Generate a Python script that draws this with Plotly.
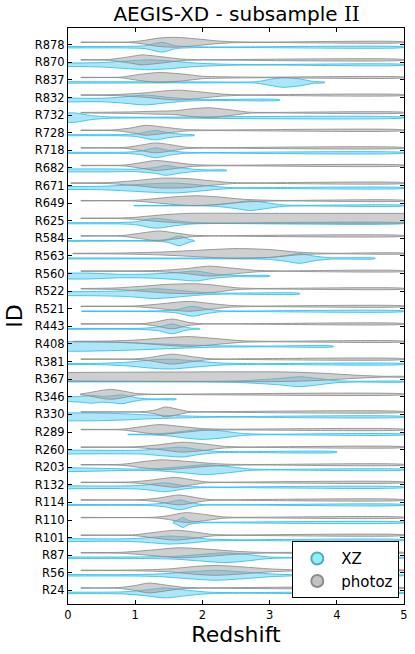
import plotly.graph_objects as go

# IDs, top to bottom
ids = ["R878", "R870", "R837", "R832", "R732", "R728", "R718", "R682", "R671",
       "R649", "R625", "R584", "R563", "R560", "R522", "R521", "R443", "R408",
       "R381", "R367", "R346", "R330", "R289", "R260", "R203", "R132", "R114",
       "R110", "R101", "R87", "R56", "R24"]

# density profiles: (redshift, relative density 0..1)
photoz_profiles = [
    [(0.19,.05),(0.9,.05),(1.1,.3),(1.35,.85),(1.6,1.0),(1.9,.7),(2.2,.3),(2.5,.08),(3.0,.05),(5,.05)],
    [(0.19,.05),(0.6,.08),(0.9,.6),(1.1,1.0),(1.35,.7),(1.7,.15),(2.0,.05),(5,.05)],
    [(0.19,.05),(0.8,.08),(1.0,.5),(1.35,1.0),(1.7,.7),(2.0,.25),(2.4,.12),(2.9,.06),(5,.05)],
    [(0.19,.05),(0.7,.1),(1.1,.4),(1.4,.8),(1.65,1.0),(2.0,.6),(2.3,.2),(2.6,.06),(5,.05)],
    [(0.19,.05),(0.9,.15),(1.3,.3),(1.6,.4),(1.85,.8),(2.1,1.0),(2.4,.6),(2.7,.1),(3.0,.05),(5,.05)],
    [(0.19,.05),(0.7,.1),(0.95,.5),(1.15,1.0),(1.45,.6),(1.75,.15),(2.1,.06),(5,.05)],
    [(0.19,.05),(0.85,.1),(1.1,.6),(1.3,1.0),(1.55,.6),(1.75,.15),(2.0,.05),(5,.05)],
    [(0.19,.05),(0.85,.1),(1.1,.6),(1.3,1.0),(1.55,.7),(1.85,.2),(2.2,.06),(5,.05)],
    [(0.04,.05),(0.6,.1),(1.0,.5),(1.4,1.0),(1.8,.9),(2.1,.5),(2.45,.1),(2.8,.05),(5,.05)],
    [(0.19,.05),(1.0,.08),(1.2,.3),(1.6,.8),(1.9,1.0),(2.2,.8),(2.6,.3),(3.0,.08),(3.3,.05),(5,.05)],
    [(0.19,.05),(0.8,.08),(1.0,.2),(1.4,.7),(1.8,1.0),(3.0,1.0),(4.5,1.0),(5.0,1.0),(5.2,1.0)],
    [(0.19,.05),(0.8,.08),(1.05,.5),(1.35,1.0),(1.6,.6),(1.85,.15),(2.1,.05),(5,.05)],
    [(0.07,.05),(0.8,.1),(1.4,.3),(2.0,.7),(2.5,1.0),(3.0,.8),(3.4,.3),(3.7,.1),(4.0,.05),(5,.05)],
    [(0.19,.05),(1.0,.06),(1.4,.15),(1.75,.5),(2.1,1.0),(2.45,.6),(2.8,.15),(3.1,.05),(5,.05)],
    [(0.19,.05),(0.7,.15),(1.1,.5),(1.5,.9),(1.9,1.0),(2.2,.7),(2.5,.2),(2.8,.06),(5,.05)],
    [(0.19,.05),(1.0,.08),(1.3,.4),(1.8,1.0),(2.1,.6),(2.4,.2),(2.7,.06),(5,.05)],
    [(0.19,.05),(1.1,.06),(1.3,.4),(1.55,1.0),(1.8,.3),(2.0,.05),(5,.05)],
    [(0.07,.05),(0.6,.1),(1.0,.3),(1.5,.8),(1.8,1.0),(2.2,.6),(2.6,.15),(3.0,.05),(5,.05)],
    [(0.19,.05),(1.0,.06),(1.2,.3),(1.55,1.0),(1.85,.5),(2.1,.1),(2.3,.05),(5,.05)],
    [(-0.1,.85),(0.5,.9),(1.5,.95),(2.5,1.0),(3.3,.95),(3.8,.7),(4.3,.3),(4.7,.08),(5.0,.05)],
    [(0.18,.05),(0.3,.3),(0.5,.8),(0.65,1.0),(0.85,.6),(1.0,.2),(1.2,.05),(5,.05)],
    [(0.19,.05),(1.1,.06),(1.3,.4),(1.45,1.0),(1.65,.5),(1.8,.1),(2.0,.05),(5,.05)],
    [(0.19,.05),(0.8,.08),(1.0,.4),(1.35,1.0),(1.7,.6),(2.0,.2),(2.3,.08),(5,.05)],
    [(0.19,.05),(1.0,.08),(1.3,.4),(1.7,1.0),(2.0,.7),(2.3,.2),(2.6,.05),(5,.05)],
    [(0.19,.05),(0.8,.1),(1.1,.6),(1.4,1.0),(1.75,.7),(2.1,.3),(2.4,.1),(2.8,.05),(5,.05)],
    [(0.19,.05),(0.95,.1),(1.2,.4),(1.6,1.0),(1.85,.5),(2.05,.1),(2.3,.05),(5,.05)],
    [(0.19,.05),(1.1,.08),(1.35,.4),(1.65,1.0),(1.9,.5),(2.1,.1),(2.3,.05),(5,.05)],
    [(0.19,.05),(1.3,.08),(1.5,.4),(1.75,1.0),(2.05,.6),(2.3,.15),(2.5,.05),(5,.05)],
    [(0.19,.05),(1.0,.1),(1.25,.5),(1.6,1.0),(1.9,.6),(2.15,.15),(2.5,.05),(5,.05)],
    [(0.19,.05),(0.8,.1),(1.2,.5),(1.65,1.0),(2.1,.7),(2.5,.3),(2.9,.08),(5,.05)],
    [(0.19,.05),(1.0,.08),(1.5,.3),(1.9,.8),(2.2,1.0),(2.6,.7),(3.0,.3),(3.4,.1),(3.8,.05),(5,.05)],
    [(0.19,.05),(0.75,.08),(1.0,.5),(1.2,1.0),(1.45,.6),(1.7,.15),(2.0,.05),(5,.05)],
]

xz_profiles = [
    [(0,.15),(0.8,.15),(1.15,.3),(1.4,1.0),(1.6,.3),(1.9,.08),(2.5,.05),(5,.05)],
    [(0,.35),(0.5,.45),(0.9,.8),(1.2,1.0),(1.5,.8),(1.9,.35),(2.4,.1),(3,.05),(5,.05)],
    [(0,.15),(1.0,.12),(2.0,.1),(2.8,.15),(3.0,.6),(3.2,1.0),(3.45,.7),(3.65,.2),(3.82,.05)],
    [(0,.4),(0.5,.35),(0.8,.6),(1.15,1.0),(1.45,.6),(1.8,.2),(2.2,.1),(3.15,.06)],
    [(-0.1,.95),(0.1,.95),(0.35,.4),(0.6,.15),(1.0,.08),(5,.05)],
    [(0,.12),(0.8,.12),(1.0,.25),(1.3,.95),(1.5,.5),(1.7,.2),(1.88,.06)],
    [(0,.12),(0.9,.15),(1.1,.4),(1.3,1.0),(1.5,.5),(1.7,.15),(2.0,.06),(5,.05)],
    [(0,.3),(0.6,.3),(1.0,.25),(1.3,.6),(1.45,1.0),(1.65,.6),(1.9,.2),(2.1,.1),(2.36,.06)],
    [(0,.3),(0.5,.35),(0.9,.6),(1.3,.9),(1.6,1.0),(1.9,.7),(2.2,.3),(2.45,.08),(5,.05)],
    [(0.98,.05),(2.0,.06),(2.2,.15),(2.5,.6),(2.7,1.0),(2.95,.6),(3.2,.15),(3.5,.06),(5,.05)],
    [(0,.12),(0.8,.15),(1.0,.3),(1.3,1.0),(1.6,.5),(1.85,.15),(2.2,.06),(5,.05)],
    [(0,.1),(1.3,.1),(1.48,.3),(1.66,1.0),(1.8,.3),(1.88,.06)],
    [(0,.1),(2.5,.1),(3.0,.2),(3.25,.6),(3.45,1.0),(3.65,.5),(3.9,.15),(4.57,.06)],
    [(0,.6),(0.3,.6),(0.8,.35),(1.2,.4),(1.6,.7),(1.9,1.0),(2.2,.4),(2.5,.12),(3.0,.06)],
    [(0,.4),(0.5,.45),(0.9,.6),(1.3,1.0),(1.7,.6),(2.0,.25),(2.3,.1),(3.45,.06)],
    [(0.2,.06),(1.3,.08),(1.6,.3),(1.85,1.0),(2.05,.5),(2.25,.12),(2.6,.06),(5,.05)],
    [(0,.1),(1.1,.12),(1.35,.4),(1.55,1.0),(1.72,.4),(1.85,.12),(1.96,.06)],
    [(-0.1,1.0),(0.3,.95),(0.8,.8),(1.3,.55),(1.8,.3),(2.3,.12),(3.0,.08),(3.95,.06)],
    [(0,.1),(0.5,.15),(0.9,.4),(1.3,.9),(1.55,1.0),(1.9,.6),(2.3,.2),(2.8,.08),(5,.05)],
    [(0,.06),(2.0,.08),(2.6,.2),(3.1,.6),(3.45,1.0),(3.75,.6),(4.0,.2),(4.3,.08),(5,.05)],
    [(0,.45),(0.2,.6),(0.35,.8),(0.5,.6),(0.65,.7),(0.8,.9),(0.95,.5),(1.1,.15),(1.3,.08),(1.61,.06)],
    [(-0.1,.8),(0.3,.8),(0.8,.65),(1.2,.4),(1.6,.25),(2.0,.1),(2.5,.06),(5,.05)],
    [(0.89,.06),(1.2,.08),(1.5,.3),(1.8,.8),(2.0,1.0),(2.3,.7),(2.6,.2),(2.9,.06),(5,.05)],
    [(0,.4),(0.6,.35),(1.1,.4),(1.45,.8),(1.7,1.0),(1.95,.5),(2.2,.15),(2.6,.08),(4.0,.06)],
    [(0,.4),(0.4,.3),(0.9,.15),(1.3,.2),(1.7,.6),(2.05,1.0),(2.4,.6),(2.7,.15),(3.0,.06),(5,.05)],
    [(0,.3),(0.7,.25),(1.1,.4),(1.45,.9),(1.7,.4),(1.9,.12),(2.3,.06),(5,.05)],
    [(0,.1),(1.2,.12),(1.45,.4),(1.66,1.0),(1.85,.4),(2.0,.08),(5,.05)],
    [(1.56,.06),(1.62,.4),(1.71,1.0),(1.8,.4),(1.95,.1),(2.2,.06),(5,.05)],
    [(0,.3),(0.8,.25),(1.1,.4),(1.5,.8),(1.8,.6),(2.1,.2),(2.5,.08),(5,.05)],
    [(0,.15),(1.0,.15),(1.6,.3),(2.0,.7),(2.35,1.0),(2.7,.6),(3.0,.15),(3.4,.06),(5,.05)],
    [(0,.15),(1.0,.15),(1.4,.3),(1.8,.7),(2.2,1.0),(2.6,.7),(3.0,.3),(3.4,.1),(3.8,.06),(5,.05)],
    [(0,.15),(0.8,.2),(1.1,.5),(1.45,1.0),(1.8,.5),(2.1,.15),(2.5,.06),(5,.05)],
]

x_ticks = [0, 1, 2, 3, 4, 5]

# ---- style ----
HALF = 0.28      # max half-width of a violin, in row units
OFF = 0.14       # vertical offset of each series from the row centre
FONT = "DejaVu Sans"
XZ_FILL = "rgba(40,190,240,0.38)"
XZ_LINE = "rgba(40,190,240,0.85)"
PZ_FILL = "rgba(160,160,160,0.5)"
PZ_LINE = "rgba(140,140,140,0.85)"

n = len(ids)
fig = go.Figure()


def add_violin(profile, yc, fill, line):
    xs = [p[0] for p in profile]
    ws = [p[1] * HALF for p in profile]
    X = xs + xs[::-1]
    Y = [yc + w for w in ws] + [yc - w for w in ws[::-1]]
    fig.add_trace(go.Scatter(
        x=X, y=Y, mode="lines", fill="toself", fillcolor=fill,
        line=dict(color=line, width=1.0, shape="spline", smoothing=0.7),
        hoverinfo="skip", showlegend=False))


for k, name in enumerate(ids):
    yc = n - 1 - k
    add_violin(xz_profiles[k], yc - OFF, XZ_FILL, XZ_LINE)
for k, name in enumerate(ids):
    yc = n - 1 - k
    add_violin(photoz_profiles[k], yc + OFF, PZ_FILL, PZ_LINE)

# legend entries
fig.add_trace(go.Scatter(x=[None], y=[None], mode="markers", name="XZ",
                         marker=dict(size=13, color="rgba(130,240,248,0.9)",
                                     line=dict(color="rgba(90,170,180,1)", width=1))))
fig.add_trace(go.Scatter(x=[None], y=[None], mode="markers", name="photoz",
                         marker=dict(size=13, color="rgba(195,195,195,1)",
                                     line=dict(color="rgba(140,140,140,1)", width=1))))

fig.update_layout(
    width=415, height=654,
    margin=dict(l=68, r=11, t=28, b=50, autoexpand=False),
    paper_bgcolor="white", plot_bgcolor="white",
    font=dict(family=FONT, color="black", size=12),
    title=dict(text="AEGIS-XD - subsample <span style='font-family:DejaVu Serif'>II</span>",
               x=0.57, xref="container", xanchor="center",
               y=1 - 14 / 654, yref="container", yanchor="middle",
               font=dict(size=20, family=FONT, color="black")),
    showlegend=True,
    legend=dict(x=0.986, xanchor="right", y=0.010, yanchor="bottom",
                bgcolor="white", bordercolor="black", borderwidth=1,
                font=dict(size=15, family=FONT, color="black"),
                itemsizing="constant", itemwidth=38),
    xaxis=dict(range=[0, 5], tickvals=x_ticks, ticktext=[str(t) for t in x_ticks],
               ticks="inside", ticklen=4, tickcolor="black", showgrid=False,
               zeroline=False, showline=True, linecolor="black", linewidth=1,
               mirror="ticks", tickfont=dict(size=11.5, family=FONT), automargin=False,
               title=dict(text="Redshift", font=dict(size=22, family=FONT), standoff=3)),
    yaxis=dict(range=[-0.77, n - 0.05], tickvals=list(range(n)),
               ticktext=ids[::-1], ticks="inside", ticklen=4, tickcolor="black",
               showgrid=False, zeroline=False, showline=True, linecolor="black",
               linewidth=1, mirror="ticks", tickfont=dict(size=11.5, family=FONT),
               automargin=False,
               title=dict(text="ID", font=dict(size=22, family=FONT), standoff=6)),
)

fig.write_html("out.html", config={"displayModeBar": False},
               post_script="document.body.style.margin='0px';document.body.style.padding='0px';")
